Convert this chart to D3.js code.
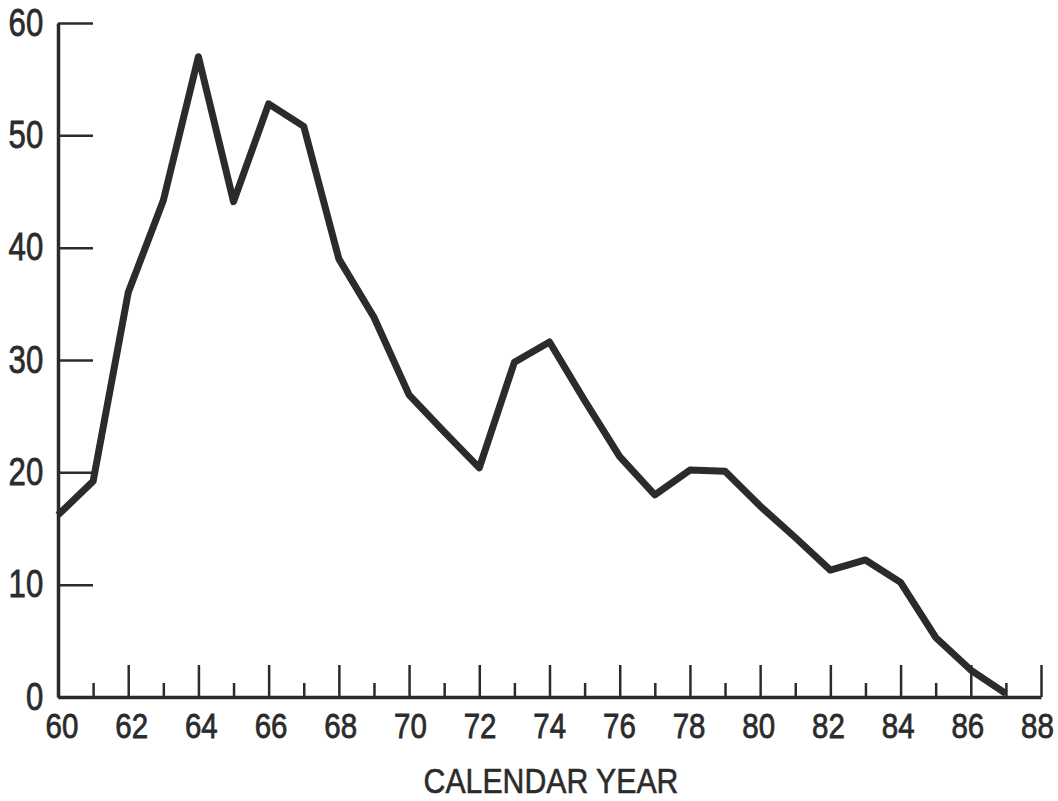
<!DOCTYPE html>
<html>
<head>
<meta charset="utf-8">
<script src="https://cdn.jsdelivr.net/npm/d3@7"></script>
<style>
  body { margin: 0; background: #fff; }
  .axis path, .axis line { stroke: #2b2b2b; }
  .axis text { font-family: "Liberation Sans", Arial, sans-serif; fill: #2b2b2b; stroke: #2b2b2b; stroke-width: 0.8px; }
</style>
</head>
<body>
<script>
// years on the x axis and the plotted values
var years = [60, 61, 62, 63, 64, 65, 66, 67, 68, 69, 70, 71, 72, 73, 74, 75, 76, 77, 78, 79, 80, 81, 82, 83, 84, 85, 86, 87];
var values = [16.2, 19.2, 36.0, 44.2, 57.0, 44.1, 52.8, 50.8, 39.0, 33.8, 26.9, 23.6, 20.4, 29.8, 31.6, 26.4, 21.4, 18.0, 20.2, 20.1, 17.0, 14.2, 11.3, 12.2, 10.2, 5.3, 2.4, 0.3];

var majorYears = [60, 62, 64, 66, 68, 70, 72, 74, 76, 78, 80, 82, 84, 86, 88];
var minorYears = [61, 63, 65, 67, 69, 71, 73, 75, 77, 79, 81, 83, 85, 87];
var yTicks = [0, 10, 20, 30, 40, 50, 60];

var width = 1058, height = 801;
var squeeze = 0.82; // the original type is a condensed face

var svg = d3.select('body').append('svg')
    .attr('width', width)
    .attr('height', height);

var xScale = d3.scaleLinear().domain([60, 88]).range([58, 1041]);
var yScale = d3.scaleLinear().domain([0, 60]).range([697, 23]);

// minor ticks on the x axis (short, pointing up)
svg.append('g')
    .attr('class', 'axis')
    .attr('transform', 'translate(0,' + yScale(0) + ')')
    .call(d3.axisBottom(xScale).tickValues(minorYears).tickSize(-14).tickSizeOuter(0).tickFormat(''))
    .call(g => g.select('.domain').remove())
    .selectAll('line').attr('stroke-width', 2.5);

// major ticks + labels
var xAxis = svg.append('g')
    .attr('class', 'axis')
    .attr('transform', 'translate(0,' + yScale(0) + ')')
    .call(d3.axisBottom(xScale).tickValues(majorYears).tickSize(-32).tickSizeOuter(0).tickPadding(15).tickFormat(d => d));
xAxis.select('.domain').attr('stroke-width', 3.5);
xAxis.selectAll('line').attr('stroke-width', 2.5);
// labels drift a little left of their ticks toward the right end
xAxis.selectAll('text')
    .attr('font-size', 36)
    .attr('dx', d => (3.5 - (d - 60) / 28 * 7.5) / squeeze)
    .attr('transform', 'scale(' + squeeze + ',1)');

var yAxis = svg.append('g')
    .attr('class', 'axis')
    .attr('transform', 'translate(' + xScale(60) + ',0)')
    .call(d3.axisLeft(yScale).tickValues(yTicks).tickSize(-35).tickSizeOuter(0).tickPadding(18));
yAxis.select('.domain').attr('stroke-width', 3.5);
yAxis.selectAll('line').attr('stroke-width', 2.5);
yAxis.selectAll('text')
    .attr('font-size', 38)
    .attr('transform', 'scale(' + squeeze + ',1)');

// axis title
svg.append('text')
    .attr('transform', 'translate(551,793) scale(0.84,1)')
    .attr('text-anchor', 'middle')
    .attr('font-family', '"Liberation Sans", Arial, sans-serif')
    .attr('font-size', 36)
    .attr('fill', '#2b2b2b')
    .attr('stroke', '#2b2b2b')
    .attr('stroke-width', 0.6)
    .text('CALENDAR YEAR');

// the data line
var line = d3.line()
    .x((d, i) => xScale(years[i]))
    .y(d => yScale(d));

svg.append('path')
    .datum(values)
    .attr('d', line)
    .attr('fill', 'none')
    .attr('stroke', '#2b2b2b')
    .attr('stroke-width', 7)
    .attr('stroke-linejoin', 'round');
</script>
</body>
</html>
